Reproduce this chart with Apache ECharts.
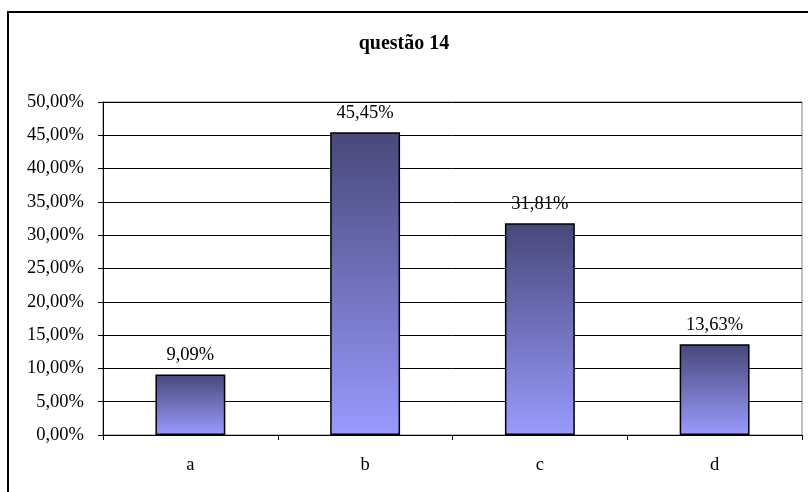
<!DOCTYPE html>
<html>
<head>
	<meta charset="UTF-8">
	<title>questão 14</title>
	<script src="https://cdn.jsdelivr.net/npm/echarts@6/dist/echarts.min.js"></script>
	<style>
		html, body { margin: 0; padding: 0; background: #fff; }
		#chart { width: 808px; height: 492px; }
	</style>
</head>
<body>
	<div id="chart"></div>
	<script>
		var categories = ["a", "b", "c", "d"];
		var values = [9.09, 45.45, 31.81, 13.63];
		var yMax = 50, yStep = 5;

		function pct(v, digits) {
			return v.toFixed(digits).replace(".", ",") + "%";
		}

		var myChart = echarts.init(document.getElementById("chart"));
		var font = "Liberation Serif";
		var option = {
			animation: false,
			title: {
				text: "questão 14",
				left: "center",
				top: 29,
				textStyle: { fontFamily: font, fontSize: 20, fontWeight: "bold", color: "#000" }
			},
			graphic: [{
				type: "rect",
				shape: { x: 8, y: 12, width: 830, height: 520 },
				style: { fill: "none", stroke: "#000", lineWidth: 2 },
				silent: true
			}],
			grid: {
				left: 103, top: 102, right: 6, bottom: 57,
				show: true, borderColor: "#808080", borderWidth: 1
			},
			xAxis: {
				type: "category",
				data: categories,
				axisLine: { lineStyle: { color: "#000", width: 1 } },
				axisTick: { show: true, length: 5, inside: false, lineStyle: { color: "#000" } },
				axisLabel: { fontFamily: font, fontSize: 18.5, color: "#000", margin: 21 }
			},
			yAxis: {
				type: "value",
				min: 0, max: yMax, interval: yStep,
				axisLine: { show: true, lineStyle: { color: "#000" } },
				axisTick: { show: true, length: 5, lineStyle: { color: "#000" } },
				axisLabel: {
					fontFamily: font, fontSize: 18.5, color: "#000", margin: 19,
					formatter: function (v) { return pct(v, 2); }
				},
				splitLine: { show: true, lineStyle: { color: "#000", width: 1 } }
			},
			series: [{
				type: "bar",
				data: values,
				barWidth: "40%",
				itemStyle: {
					borderColor: "#000",
					borderWidth: 1.5,
					color: new echarts.graphic.LinearGradient(0, 0, 0, 1, [
						{ offset: 0, color: "#48487a" },
						{ offset: 1, color: "#9a9aff" }
					])
				},
				label: {
					show: true, position: "top", distance: 10,
					fontFamily: font, fontSize: 18.5, color: "#000",
					formatter: function (p) { return pct(p.value, 2); }
				}
			}]
		};
		myChart.setOption(option);
	</script>
</body>
</html>
